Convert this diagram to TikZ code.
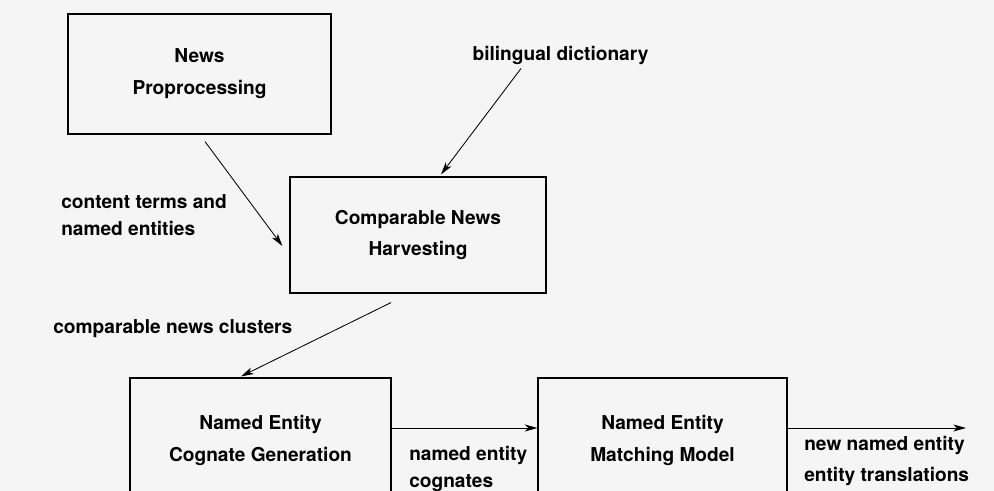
\documentclass[tikz,border=0pt]{standalone}
\usepackage{fontspec}
\setmainfont{TeX Gyre Heros}
\usetikzlibrary{arrows.meta,calc}

\begin{document}
\begin{tikzpicture}[
    x=0.025cm,
    y=-0.025cm,
    block/.style={
        rectangle,
        draw,
        align=center,
        line width=0.8pt,
        font=\fontsize{13.6pt}{22.7pt}\selectfont\bfseries
    },
    flow_label/.style={
        align=left,
        anchor=west,
        inner sep=0pt,
        font=\fontsize{13.6pt}{18.8pt}\selectfont\bfseries
    },
    line/.style={
        draw,
        line width=0.6pt,
        -{Stealth[length=9pt,width=5pt,inset=2.5pt]}
    }]

    \clip (0,0) rectangle (994,491);
    \fill [white!96!black] (0,0) rectangle (994,491);

    \node (news_preprocessing) [block, minimum width=6.575cm, minimum height=3cm] at (199.5,74) {News\\Proprocessing};
    \node (news_harvesting) [block, minimum width=6.4cm, minimum height=2.9cm] at (418,235) {Comparable News\\Harvesting};
    \node (cognate_generation) [block, minimum width=6.525cm, minimum height=3.1cm] at (260.5,440) {Named Entity\\Cognate Generation};
    \node (matching_model) [block, minimum width=6.225cm, minimum height=3.1cm] at (662.5,440) {Named Entity\\Matching Model};

    \node (dictionary) [flow_label, anchor=center] at (560.5,55) {bilingual dictionary};
    \node (content_terms) [flow_label] at (61,215) {content terms and\\named entities};
    \node (news_clusters) [flow_label] at (53,329) {comparable news clusters};
    \node (entity_cognates) [flow_label] at (409,469) {named entity\\cognates};
    \node (entity_translations) [flow_label] at (804,461) {new named entity\\[3pt]entity translations};
    \coordinate (output_end) at (966,428);

    \draw [line] ($(news_preprocessing.south)+(5.5,7)$) -- ($(news_harvesting.west)+(-7,11)$);
    \draw [line] ($(dictionary.south)+(-39.5,4)$) -- ($(news_harvesting.north)+(23,-2)$);
    \draw [line] ($(news_harvesting.south)+(-27,9)$) -- ($(cognate_generation.north)+(-19.5,-1)$);
    \draw [line] ($(cognate_generation.east)+(0,-12)$) -- ($(matching_model.west)+(0,-12)$);
    \draw [line] ($(matching_model.east)+(0,-12)$) -- (output_end);

\end{tikzpicture}
\end{document}
